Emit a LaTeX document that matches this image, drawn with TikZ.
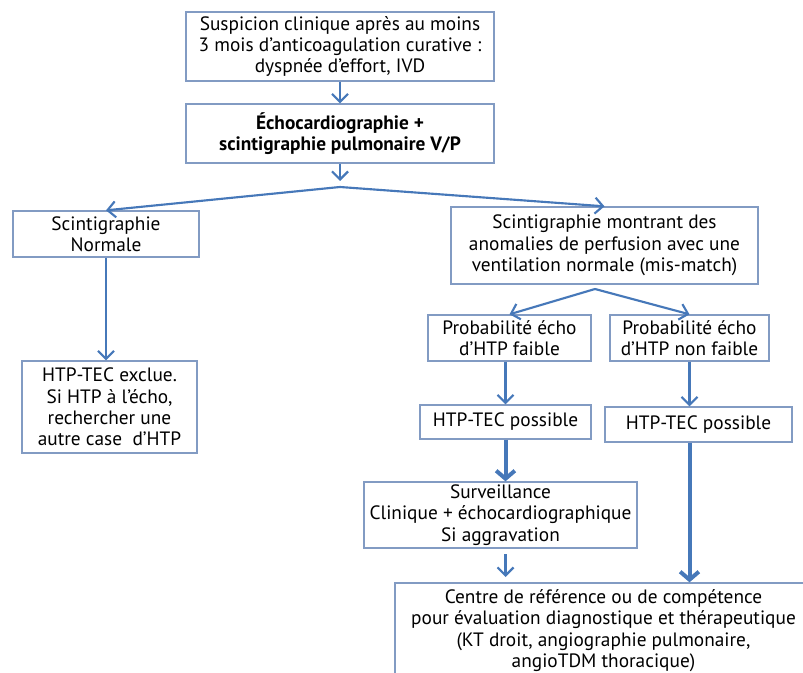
\documentclass[tikz,border=0pt]{standalone}
\usepackage{fontspec}
\setmainfont{PT Sans}
\usepackage{tikz}
\usetikzlibrary{arrows.meta}
\definecolor{cadre}{RGB}{130,155,195}
\definecolor{bleu}{RGB}{70,120,185}

\begin{document}
\begin{tikzpicture}[x=0.75pt,y=-0.75pt,
  boite/.style={draw=cadre,rectangle,line width=1pt,align=center,inner sep=0pt,
    font=\fontsize{14.5}{16}\selectfont},
  fleche/.style={draw=bleu,line width=1.6pt,-{Straight Barb[length=6pt,width=12pt]}},
  grosse/.style={draw=bleu,line width=3pt,-{Straight Barb[length=6pt,width=14pt]}}]
\useasboundingbox (0,0) rectangle (803,673);

\node [boite,minimum width=231pt,minimum height=51.75pt] (susp) at(340,46.5){Suspicion clinique après au moins\\3 mois d’anticoagulation curative :\\dyspnée d’effort, IVD};
\node [boite,minimum width=231pt,minimum height=44.25pt,font=\fontsize{14.5}{16}\selectfont\bfseries] (echo) at(340,133.5){Échocardiographie +\\scintigraphie pulmonaire V/P};
\draw [fleche] (susp) -- (echo);

% les deux branches
\coordinate (p1) at (340,181);
\coordinate (s1) at (340,187);
\node [boite,minimum width=139.5pt,minimum height=34.5pt] (norm) at(106,234){Scintigraphie\\Normale};
\node [boite,minimum width=230.25pt,minimum height=57.75pt] (mism) at(604.5,245.5){Scintigraphie montrant des\\anomalies de perfusion avec une\\ventilation normale (mis-match)};
\draw [fleche] (echo) -- (p1);
\draw [fleche] (s1) -- (norm.north);
\draw [fleche] (s1) -- (mism.north);

\node [boite,minimum width=131.25pt,minimum height=69pt] (excl) at(109.5,407){HTP-TEC exclue.\\Si HTP à l’écho,\\rechercher une\\autre case~ d’HTP};
\draw [fleche] (norm.south) -- (norm.south |- excl.north);

\coordinate (s2) at (595,289);
\node [boite,minimum width=122.25pt,minimum height=34.5pt] (faib) at(509.5,338){Probabilité écho\\d’HTP faible};
\node [boite,minimum width=119.25pt,minimum height=34.5pt] (nfaib) at(689.5,338){Probabilité écho\\d’HTP non faible};
\draw [fleche] (s2) -- (faib.north);
\draw [fleche] (s2) -- (nfaib.north);

\node [boite,minimum width=128.25pt,minimum height=25.5pt] (poss1) at(505.5,422){HTP-TEC possible};
\node [boite,minimum width=140.25pt,minimum height=26.25pt] (poss2) at(698.5,424.5){HTP-TEC possible};
\draw [fleche] (faib.south -| poss1) -- (poss1);
\draw [fleche] (nfaib.south) -- (nfaib.south |- poss2.north);

\node [boite,minimum width=204.75pt,minimum height=49.5pt] (surv) at(500.5,515){Surveillance\\Clinique + échocardiographique\\Si aggravation};
\draw [grosse] (poss1) -- (poss1 |- surv.north);

\node [boite,minimum width=312.75pt,minimum height=71.25pt] (centre) at(603.5,630.5){Centre de référence ou de compétence\\pour évaluation diagnostique et thérapeutique\\(KT droit, angiographie pulmonaire,\\angioTDM thoracique)};
\draw [fleche,shorten <=4pt,shorten >=4pt] (surv.south -| poss1) -- (poss1 |- centre.north);
\draw [grosse] (nfaib.south |- poss2.south) -- (nfaib.south |- centre.north);
\end{tikzpicture}
\end{document}
